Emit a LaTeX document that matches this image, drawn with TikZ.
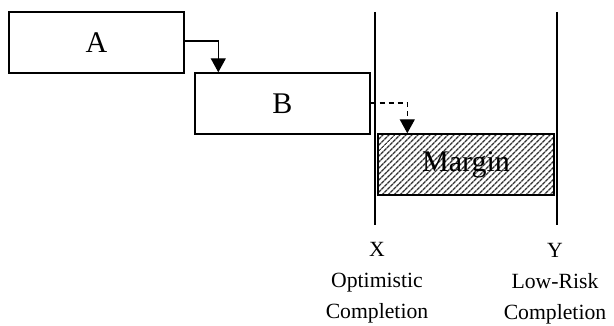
\documentclass[tikz,border=0pt]{standalone}
\usepackage{fontspec}
\setmainfont{Liberation Serif}
\usetikzlibrary{arrows.meta,patterns.meta}
\tikzset{
  boxstyle/.style={draw, line width=1.4pt, inner sep=0pt, font=\fontsize{30}{34}\selectfont},
  vline/.style={line width=1.6pt},
  arr/.style={line width=1.3pt, -{Triangle[width=15pt,length=14pt]}},
  dasharr/.style={arr, dash pattern=on 5pt off 4pt},
  lbl/.style={anchor=north, align=center, inner sep=0pt, font=\fontsize{21.7}{31}\selectfont}
}
\begin{document}
\begin{tikzpicture}[x=1pt,y=-1pt]
\useasboundingbox (0,0) rectangle (614,326);
% boxes
\node[boxstyle, minimum width=175pt, minimum height=61pt] (A) at (96.5,42.5) {A};
\node[boxstyle, minimum width=175pt, minimum height=61pt] (B) at (282.5,103.5) {B};
\node[boxstyle, minimum width=176pt, minimum height=61pt,
      pattern={Lines[angle=45,distance=4pt,line width=1.4pt]}, pattern color=black!80] (M) at (466,164.5) {};
\node[font=\fontsize{30}{34}\selectfont, inner sep=0pt] (Mt) at (M.center) {Margin};
% vertical lines
\coordinate (Xt) at (375,12);
\coordinate (Xb) at (375,225);
\coordinate (Yt) at (557,12);
\coordinate (Yb) at (557,225);
\draw[vline] (Xt) -- (Xb);
\draw[vline] (Yt) -- (Yb);
% arrows
\coordinate (Bin) at ([xshift=24pt]B.north west);
\coordinate (Min) at ([xshift=30pt]M.north west);
\draw[arr] ([yshift=1.5pt]A.east) -| (Bin);
\draw[dasharr] ([yshift=0.5pt]B.east) -| (Min);
% labels
\node[lbl] (LX) at (377,241.6) {X\\Optimistic\\Completion};
\node[lbl] (LY) at (555,243.5) {Y\\Low-Risk\\Completion};
\end{tikzpicture}
\end{document}
